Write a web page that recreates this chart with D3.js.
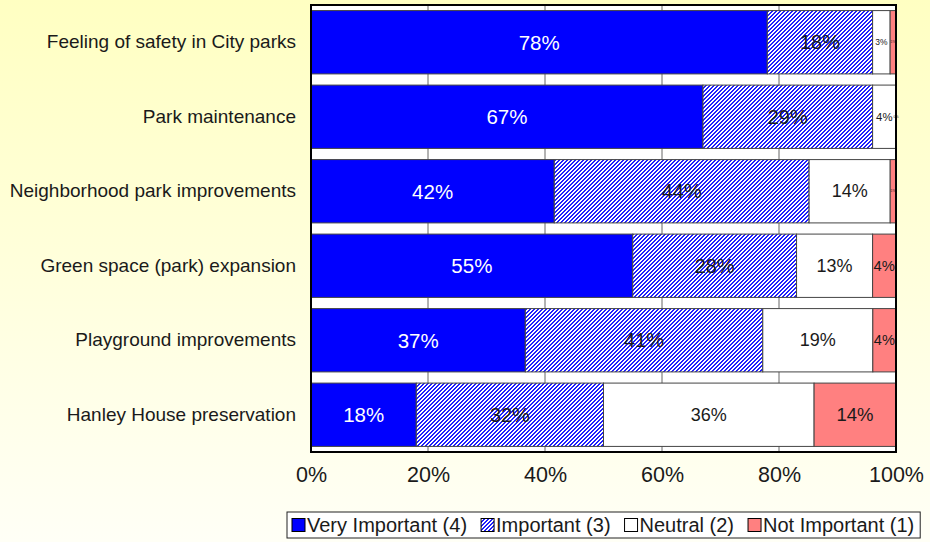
<!DOCTYPE html>
<html>
<head>
<meta charset="utf-8">
<script src="https://cdn.jsdelivr.net/npm/d3@7"></script>
<style>
  html, body { margin: 0; padding: 0; }
  body { width: 930px; height: 542px; overflow: hidden; }
  svg text { font-family: "Liberation Sans", Arial, sans-serif; }
</style>
</head>
<body>
<svg id="chart" width="930" height="542"></svg>
<script>
// Survey results: importance of park-related issues (share of responses)
const categories = [
  "Feeling of safety in City parks",
  "Park maintenance",
  "Neighborhood park improvements",
  "Green space (park) expansion",
  "Playground improvements",
  "Hanley House preservation"
];
const veryImportant = [78, 67, 42, 55, 37, 18];
const important     = [18, 29, 44, 28, 41, 32];
const neutral       = [3, 4, 14, 13, 19, 36];
const notImportant  = [1, 0, 1, 4, 4, 14];
const seriesNames = ["Very Important (4)", "Important (3)", "Neutral (2)", "Not Important (1)"];
const xTickValues = [0, 0.2, 0.4, 0.6, 0.8, 1.0];
const xTickLabels = ["0%", "20%", "40%", "60%", "80%", "100%"];

const svg = d3.select("#chart");
const W = 930, H = 542;

// background: soft yellow fading downward
const defs = svg.append("defs");
const bg = defs.append("linearGradient").attr("id", "bgGrad")
  .attr("x1", 0).attr("y1", 0).attr("x2", 0).attr("y2", 1);
bg.append("stop").attr("offset", "0%").attr("stop-color", "#ffffc2");
bg.append("stop").attr("offset", "100%").attr("stop-color", "#fffff6");
svg.append("rect").attr("width", W).attr("height", H).attr("fill", "url(#bgGrad)");

// pixel-stepped diagonal hatching for the "Important" series
const pat = defs.append("pattern").attr("id", "hatch")
  .attr("patternUnits", "userSpaceOnUse").attr("width", 4).attr("height", 4);
pat.append("rect").attr("width", 4).attr("height", 4).attr("fill", "#ffffff");
const hatchPixels = [[2, 0], [3, 0], [1, 1], [2, 1], [0, 2], [1, 2], [0, 3], [3, 3]];
pat.selectAll("rect.px").data(hatchPixels).join("rect").attr("class", "px")
  .attr("x", d => d[0]).attr("y", d => d[1]).attr("width", 1).attr("height", 1)
  .attr("fill", "#1f1fff").attr("shape-rendering", "crispEdges");

const fills = ["#0000ff", "url(#hatch)", "#ffffff", "#ff8080"];
const labelColors = ["#ffffff", "#1a1a1a", "#1a1a1a", "#1a1a1a"];
const labelBase = [20.5, 20, 18, 18.5];
const labelRoom = [w => w - 4, w => w - 4, w => w * 0.7, w => w - 2];

const plot = { left: 311, right: 896, top: 5, bottom: 452 };

const x = d3.scaleLinear().domain([0, 1]).range([plot.left, plot.right]);
const y = d3.scaleBand().domain(categories).range([plot.top, plot.bottom])
  .paddingInner(0.15).paddingOuter(0.075);

const rows = categories.map((c, i) => ({
  category: c,
  s0: veryImportant[i], s1: important[i], s2: neutral[i], s3: notImportant[i]
}));
const keys = ["s0", "s1", "s2", "s3"];
const stacked = d3.stack().keys(keys).offset(d3.stackOffsetExpand)(rows);

// plot area
svg.append("rect")
  .attr("x", plot.left).attr("y", plot.top)
  .attr("width", plot.right - plot.left).attr("height", plot.bottom - plot.top)
  .attr("fill", "#ffffff");

// vertical gridlines (visible in the gaps between bars)
svg.append("g").selectAll("line").data(xTickValues.slice(1, -1)).join("line")
  .attr("x1", d => x(d)).attr("x2", d => x(d))
  .attr("y1", plot.top).attr("y2", plot.bottom)
  .attr("stroke", "#666").attr("stroke-width", 1);

// bar segments
const groups = svg.append("g").selectAll("g").data(stacked).join("g")
  .attr("fill", (d, i) => fills[i]);
groups.selectAll("rect").data(d => d).join("rect")
  .attr("x", d => x(d[0]))
  .attr("y", d => y(d.data.category))
  .attr("width", d => Math.max(0, x(d[1]) - x(d[0])))
  .attr("height", y.bandwidth())
  .attr("stroke", "#444").attr("stroke-width", 1);

// value labels, shrunk to fit narrow segments
stacked.forEach((layer, si) => {
  const key = keys[si];
  layer.forEach(seg => {
    const w = x(seg[1]) - x(seg[0]);
    const t = svg.append("text")
      .attr("x", (x(seg[0]) + x(seg[1])) / 2)
      .attr("y", y(seg.data.category) + y.bandwidth() / 2)
      .attr("text-anchor", "middle")
      .attr("dominant-baseline", "central")
      .attr("fill", labelColors[si])
      .attr("font-size", labelBase[si])
      .text(seg.data[key] + "%");
    const tw = t.node().getComputedTextLength();
    const avail = Math.max(labelRoom[si](w), 3);
    if (tw > avail) {
      t.attr("font-size", Math.max(3.5, labelBase[si] * avail / tw));
    }
  });
});

// plot frame
svg.append("rect")
  .attr("x", plot.left).attr("y", plot.top)
  .attr("width", plot.right - plot.left).attr("height", plot.bottom - plot.top)
  .attr("fill", "none").attr("stroke", "#000").attr("stroke-width", 2);

// category axis
const yAxis = svg.append("g").attr("transform", `translate(${plot.left},0)`)
  .call(d3.axisLeft(y).tickSize(0).tickPadding(15));
yAxis.select(".domain").remove();
yAxis.selectAll("text").attr("font-size", 19).attr("fill", "#1a1a1a")
  .style("font-family", "Liberation Sans, Arial, sans-serif");

// value axis
const xAxis = svg.append("g").attr("transform", `translate(0,${plot.bottom})`)
  .call(d3.axisBottom(x).tickValues(xTickValues)
    .tickFormat((d, i) => xTickLabels[i]).tickSize(0).tickPadding(15));
xAxis.select(".domain").remove();
xAxis.selectAll("text").attr("font-size", 21.5).attr("fill", "#1a1a1a")
  .style("font-family", "Liberation Sans, Arial, sans-serif");

// legend
const legend = svg.append("g");
const legBox = legend.append("rect")
  .attr("x", 287).attr("y", 512).attr("width", 634).attr("height", 26)
  .attr("fill", "#ffffff").attr("stroke", "#222").attr("stroke-width", 1);
let lx = 292;
seriesNames.forEach((name, i) => {
  legend.append("rect").attr("x", lx).attr("y", 518.5).attr("width", 13).attr("height", 13)
    .attr("fill", fills[i]).attr("stroke", "#000").attr("stroke-width", 1);
  const t = legend.append("text").attr("x", lx + 15).attr("y", 532)
    .attr("font-size", 20).attr("fill", "#1a1a1a").text(name);
  lx += 15 + t.node().getComputedTextLength() + 14;
});
legBox.attr("width", lx - 14 + 6 - 287);
</script>
</body>
</html>
